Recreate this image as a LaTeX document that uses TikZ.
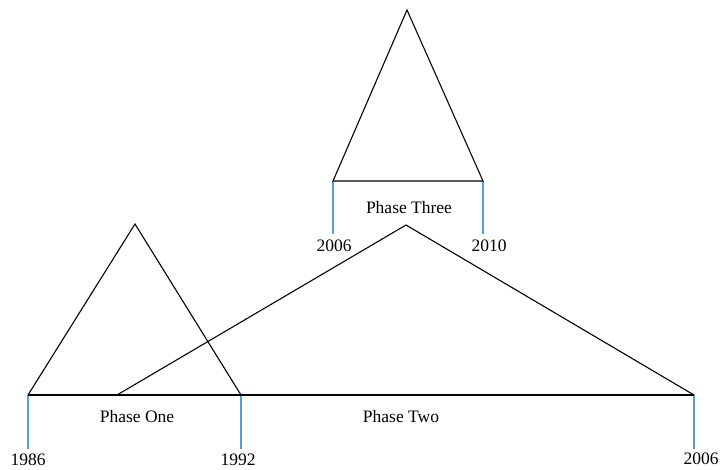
\documentclass[tikz,border=0pt]{standalone}
\usepackage{fontspec}
\setmainfont{Liberation Serif}
\definecolor{tickblue}{RGB}{91,155,213}
\tikzset{
  tri/.style={draw=black, line width=1.1pt, line join=miter},
  tick/.style={draw=tickblue, line width=1.3pt},
  lab/.style={font=\fontsize{17.5}{20}\selectfont, inner sep=0pt, anchor=center}
}
\begin{document}
\begin{tikzpicture}[x=1pt,y=-1pt]
\useasboundingbox (0,0) rectangle (728,469);
% coordinates
\coordinate (a1) at (28,395);
\coordinate (t1) at (135,224);
\coordinate (b1) at (241,395);
\coordinate (a2) at (117,395);
\coordinate (t2) at (406,225);
\coordinate (b2) at (694,395);
\coordinate (a3) at (333,181);
\coordinate (t3) at (407,10);
\coordinate (b3) at (483,181);
\coordinate (e1) at (28,449);
\coordinate (e2) at (241,449);
\coordinate (e3) at (694,449);
\coordinate (e4) at (333,234);
\coordinate (e5) at (483,234);
% ticks
\draw[tick] (a1) -- (e1);
\draw[tick] (b1) -- (e2);
\draw[tick] (b2) -- (e3);
\draw[tick] (a3) -- (e4);
\draw[tick] (b3) -- (e5);
% triangles
\draw[tri] (a1) -- (t1) -- (b1);
\draw[tri] (a2) -- (t2) -- (b2);
\draw[tri] (a1) -- (b2);
\draw[tri] (a3) -- (t3) -- (b3) -- cycle;
% labels
\node[lab] (l1986) at (28,460) {1986};
\node[lab] (l1992) at (238,460) {1992};
\node[lab] (l2006b) at (701,459) {2006};
\node[lab] (l2006a) at (334,246) {2006};
\node[lab] (l2010) at (489,246) {2010};
\node[lab] (p1) at (137,417) {Phase One};
\node[lab] (p2) at (401,417) {Phase Two};
\node[lab] (p3) at (409,208) {Phase Three};
\end{tikzpicture}
\end{document}
